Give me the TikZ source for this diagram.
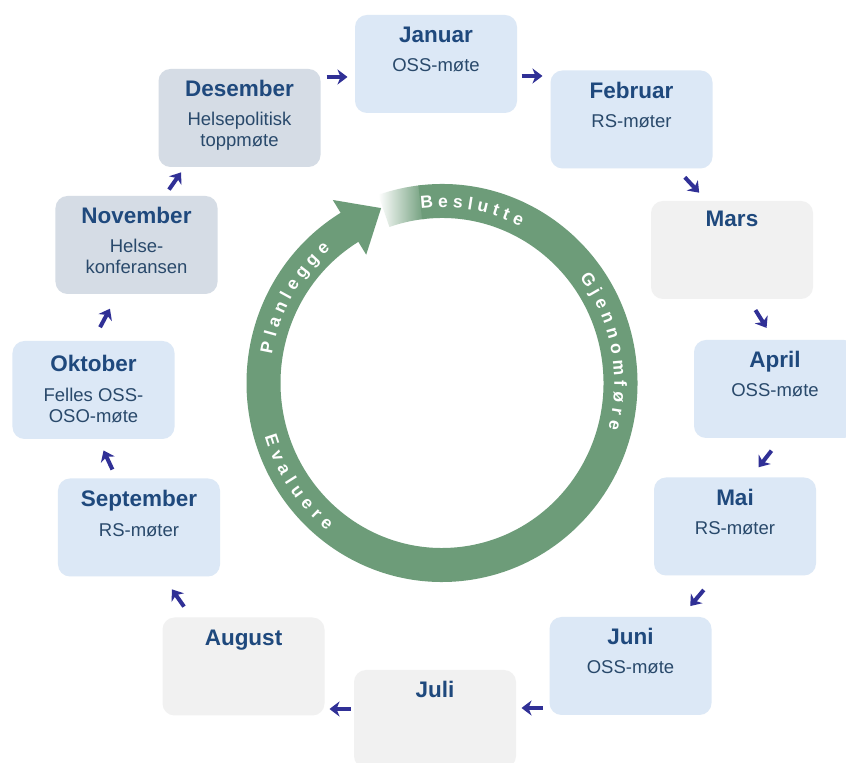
\documentclass[tikz,border=0pt]{standalone}
\usepackage{fontspec}
\setmainfont{Liberation Sans}
\usetikzlibrary{calc,arrows.meta}
\definecolor{ringgreen}{RGB}{109,156,121}
\definecolor{boxblue}{RGB}{220,232,246}
\definecolor{boxslate}{RGB}{213,220,229}
\definecolor{boxgrey}{RGB}{241,241,241}
\definecolor{titleblue}{RGB}{31,73,125}
\definecolor{subblue}{RGB}{41,73,107}
\definecolor{arrowblue}{RGB}{48,48,150}
\newcommand\ringfont{\bfseries\fontsize{17.5bp}{20bp}\selectfont}
% advance widths (em) of Liberation Sans Bold
\newcommand\setrtw[2]{\expandafter\def\csname rtw#1\endcsname{#2}}
\setrtw{B}{0.722}\setrtw{e}{0.556}\setrtw{s}{0.556}\setrtw{l}{0.278}
\setrtw{u}{0.611}\setrtw{t}{0.333}\setrtw{G}{0.778}\setrtw{j}{0.278}
\setrtw{n}{0.611}\setrtw{o}{0.611}\setrtw{m}{0.889}\setrtw{f}{0.333}
\setrtw{ø}{0.611}\setrtw{r}{0.389}\setrtw{E}{0.667}\setrtw{v}{0.556}
\setrtw{a}{0.556}\setrtw{P}{0.667}\setrtw{g}{0.611}
\newcommand\rtsize{17.5}
\newcommand\rtls{5.0}
% #1 name, #2 letters, #3 centre angle, #4 + (ccw) or - (cw), #5 rotation offset
\newcommand\ringtext[5]{%
  \xdef\rtWtot{0}%
  \foreach \rtch in {#2}{%
    \edef\cw{\csname rtw\rtch\endcsname}%
    \pgfmathsetmacro\rttmp{\rtWtot + \cw*\rtsize + \rtls}%
    \xdef\rtWtot{\rttmp}}%
  \pgfmathsetmacro\rttmp{\rtWtot - \rtls}%
  \xdef\rtWtot{\rttmp}%
  \xdef\rtSacc{0}%
  \foreach \rtch [count=\rti] in {#2}{%
    \edef\cw{\csname rtw\rtch\endcsname}%
    \pgfmathsetmacro\ang{#3 #4 (\rtSacc + 0.5*\cw*\rtsize - 0.5*\rtWtot)*57.29578/175}%
    \pgfmathsetmacro\rttmp{\rtSacc + \cw*\rtsize + \rtls}%
    \xdef\rtSacc{\rttmp}%
    \node[ringletter, rotate={\ang#5}] (#1-\rti) at ($(C)+(\ang:178.5 and 182)$) {\rtch};
  }}
% month card: #1 name, #2 x, #3 y, #4 fill, #5 title, #6 extra offset
\newcommand\monthcard[6]{%
  \node[mbox, fill=#4] (#1) at (#2,#3) {};
  \node[mtitle] (#1-t) at ([yshift={-28bp-#6}]#1.north) {#5};}
\newcommand\monthlink[4]{%
  \coordinate (#1-s) at ($(#2,#3)+(#4+180:10.5)$);
  \coordinate (#1-e) at ($(#2,#3)+(#4:10.5)$);
  \draw[marrow] (#1-s) -- (#1-e);}
\begin{document}
\begin{tikzpicture}[x=1bp,y=1bp,
  mbox/.style={rounded corners=12bp, minimum width=162bp, minimum height=98bp, inner sep=0pt, draw=none},
  mtitle/.style={anchor=base, font=\bfseries\fontsize{22.5bp}{26bp}\selectfont, text=titleblue, inner sep=0pt},
  msub/.style={anchor=base, font=\fontsize{18.5bp}{21bp}\selectfont, text=subblue, inner sep=0pt},
  marrow/.style={draw=arrowblue, line width=4bp, -{Stealth[length=10bp,width=15bp,inset=3bp]}},
  ringletter/.style={font=\ringfont, text=white, inner sep=0pt, text height=12.5bp, text depth=0bp, anchor=center}]
\useasboundingbox (0,0) rectangle (846,763);
\clip (0,0) rectangle (846,763);
\fill[white] (0,0) rectangle (846,763);

% ---- month cards ----
\monthcard{jan}{436}{699}{boxblue}{Januar}{0bp}
\node[msub] (jan-a) at ([yshift=-57bp]jan.north) {OSS-møte};
\monthcard{feb}{631.5}{643.5}{boxblue}{Februar}{0bp}
\node[msub] (feb-a) at ([yshift=-57bp]feb.north) {RS-møter};
\monthcard{mar}{732}{513}{boxgrey}{Mars}{-2bp}
\monthcard{apr}{775}{374}{boxblue}{April}{0bp}
\node[msub] (apr-a) at ([yshift=-57bp]apr.north) {OSS-møte};
\monthcard{mai}{735}{236.5}{boxblue}{Mai}{0bp}
\node[msub] (mai-a) at ([yshift=-57bp]mai.north) {RS-møter};
\monthcard{jun}{630.5}{97}{boxblue}{Juni}{0bp}
\node[msub] (jun-a) at ([yshift=-57bp]jun.north) {OSS-møte};
\monthcard{jul}{435}{44}{boxgrey}{Juli}{0bp}
\monthcard{aug}{243.5}{96.5}{boxgrey}{August}{0bp}
\monthcard{sep}{139}{235.5}{boxblue}{September}{0bp}
\node[msub] (sep-a) at ([yshift=-58bp]sep.north) {RS-møter};
\monthcard{okt}{93.5}{373}{boxblue}{Oktober}{3bp}
\node[msub] (okt-a) at ([yshift=-61bp]okt.north) {Felles OSS-};
\node[msub] (okt-b) at ([yshift=-82bp]okt.north) {OSO-møte};
\monthcard{nov}{136.5}{518}{boxslate}{November}{0bp}
\node[msub] (nov-a) at ([yshift=-57bp]nov.north) {Helse-};
\node[msub] (nov-b) at ([yshift=-78bp]nov.north) {konferansen};
\monthcard{des}{239.5}{645}{boxslate}{Desember}{0bp}
\node[msub] (des-a) at ([yshift=-57bp]des.north) {Helsepolitisk};
\node[msub] (des-b) at ([yshift=-78bp]des.north) {toppmøte};

% ---- arrows between months ----
\monthlink{dj}{337}{686}{0}
\monthlink{jf}{532}{687}{0}
\monthlink{fm}{692}{578}{-47}
\monthlink{ma}{761}{444}{-58}
\monthlink{am}{765}{304}{-128}
\monthlink{mj}{697}{165}{-130}
\monthlink{jj}{532}{55}{180}
\monthlink{ja}{340}{54}{180}
\monthlink{as}{178}{165}{125}
\monthlink{so}{108}{303}{115}
\monthlink{on}{105}{445}{62}
\monthlink{nd}{175}{582}{55}

% ---- central cycle arrow ----
\coordinate (C) at (442,380);
\shade[left color=white, right color=ringgreen]
  ($(C)+(109:195.5 and 199)$) arc[start angle=109, end angle=96, x radius=195.5, y radius=199]
  -- ($(C)+(96:161.5 and 165)$) arc[start angle=96, end angle=109, x radius=161.5, y radius=165] -- cycle;
\draw[ringgreen, line width=34bp]
  ($(C)+(97:178.5 and 182)$) arc[start angle=97, end angle=-239.1, x radius=178.5, y radius=182];
\coordinate (hO) at (332.8,563.0);
\coordinate (hI) at (366.2,508.3);
\coordinate (hT) at (381.1,554.9);
\fill[ringgreen] (hO) -- (hT) -- (hI) -- cycle;

\ringtext{bes}{B,e,s,l,u,t,t,e}{80}{-}{-90}
\ringtext{gje}{G,j,e,n,n,o,m,f,ø,r,e}{11}{-}{-90}
\ringtext{pla}{P,l,a,n,l,e,g,g,e}{150.5}{-}{-90}
\ringtext{eva}{E,v,a,l,u,e,r,e}{214}{+}{+90}
\end{tikzpicture}
\end{document}
